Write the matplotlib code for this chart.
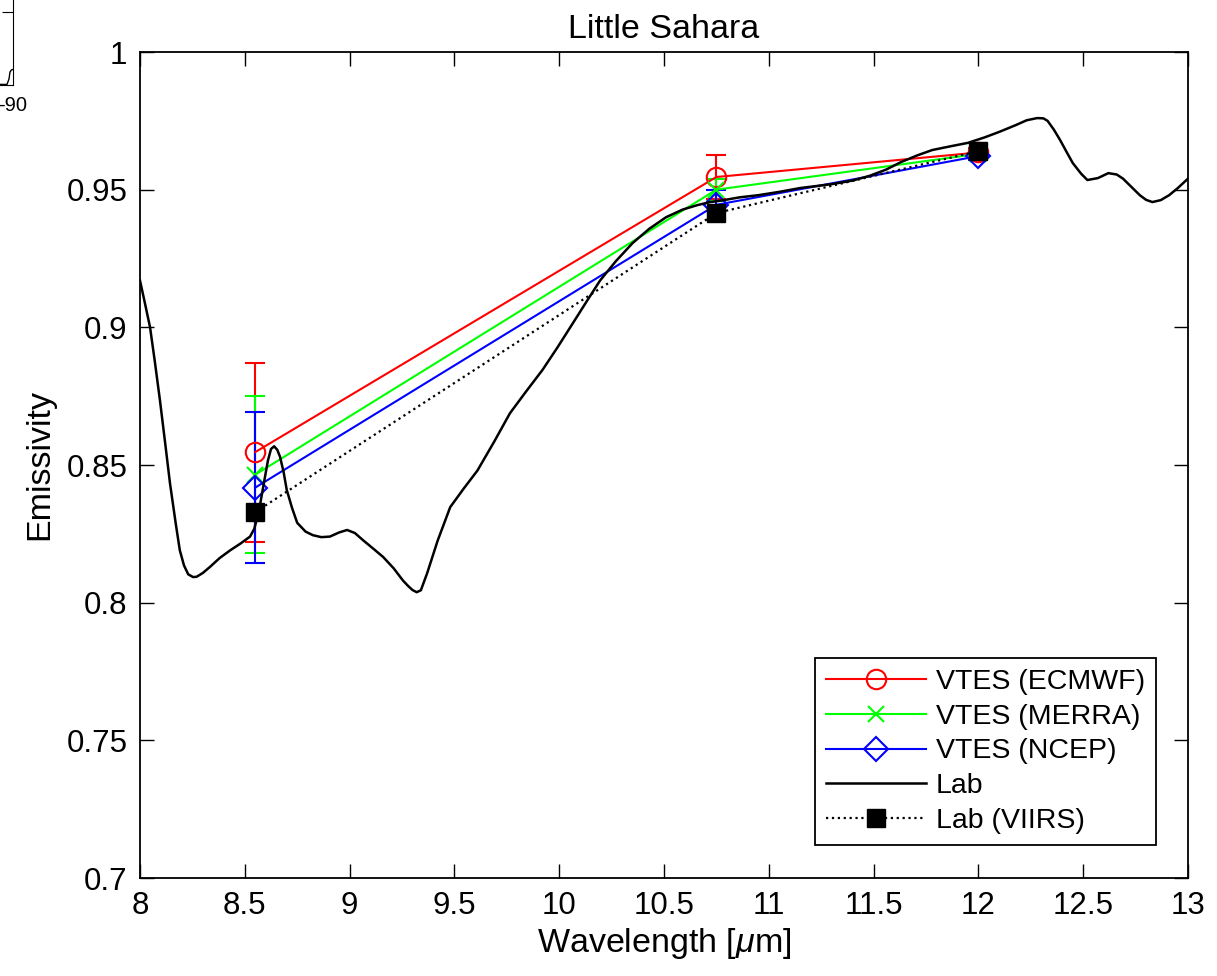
import numpy as np
import matplotlib
matplotlib.use('Agg')
import matplotlib.pyplot as plt

plt.rcParams['font.family'] = ['Liberation Sans', 'DejaVu Sans']
plt.rcParams['mathtext.fontset'] = 'custom'
plt.rcParams['mathtext.it'] = 'Liberation Sans:italic'
plt.rcParams['mathtext.rm'] = 'Liberation Sans'

# VTES / VIIRS band centres
bands = [8.55, 10.75, 12.0]

ecmwf = [0.8547, 0.9546, 0.9635]
ecmwf_err = [0.0325, 0.0080, 0.0015]
merra = [0.8465, 0.9500, 0.9630]
merra_err = [0.0285, 0.0040, 0.0015]
ncep = [0.8418, 0.9445, 0.9622]
ncep_err = [0.0273, 0.0055, 0.0015]
viirs = [0.8329, 0.9415, 0.9640]

# lab spectrum
lab_wl = [8.0, 8.02, 8.048, 8.07, 8.095, 8.12, 8.143, 8.17, 8.19, 8.21, 8.23, 8.253,
          8.27, 8.30, 8.334, 8.38, 8.43, 8.48, 8.525, 8.545, 8.56, 8.575, 8.59, 8.61,
          8.625, 8.64, 8.655, 8.668, 8.685, 8.70, 8.725, 8.75, 8.79, 8.825, 8.865,
          8.906, 8.95, 8.988, 9.025, 9.064, 9.11, 9.16, 9.21, 9.255, 9.28, 9.30, 9.32,
          9.34, 9.37, 9.42, 9.48, 9.545, 9.61, 9.69, 9.765, 9.84, 9.92, 9.99, 10.066,
          10.13, 10.195, 10.27, 10.35, 10.43, 10.51, 10.59, 10.66, 10.72, 10.77, 10.86,
          10.95, 11.05, 11.15, 11.3, 11.4, 11.48, 11.56, 11.63, 11.71, 11.78, 11.87,
          11.95, 12.03, 12.10, 12.18, 12.23, 12.28, 12.31, 12.33, 12.36, 12.39, 12.42,
          12.45, 12.49, 12.52, 12.57, 12.62, 12.66, 12.69, 12.73, 12.77, 12.80, 12.83,
          12.87, 12.91, 12.95, 13.0]
lab_em = [0.917, 0.910, 0.900, 0.888, 0.8736, 0.858, 0.8434, 0.829, 0.819, 0.8135, 0.8103, 0.8093,
          0.8094, 0.8108, 0.813, 0.8162, 0.819, 0.8215, 0.824, 0.8268, 0.831, 0.8365, 0.843, 0.8515,
          0.8558, 0.8568, 0.8555, 0.853, 0.8475, 0.841, 0.8345, 0.829, 0.8258, 0.8245, 0.8238,
          0.824, 0.8255, 0.8264, 0.8253, 0.8227, 0.8198, 0.8166, 0.8125, 0.808, 0.806, 0.8046, 0.8038,
          0.8045, 0.8107, 0.8225, 0.8347, 0.8415, 0.848, 0.8585, 0.8688, 0.8765, 0.8845, 0.8925, 0.9016,
          0.9093, 0.917, 0.924, 0.9306, 0.9358, 0.940, 0.9428, 0.9444, 0.9455, 0.946, 0.9472,
          0.948, 0.9492, 0.9506, 0.952, 0.9533, 0.955, 0.9573, 0.960, 0.9625, 0.9644, 0.9658,
          0.967, 0.969, 0.971, 0.9735, 0.9752, 0.976, 0.9759, 0.975, 0.9718, 0.968, 0.9638,
          0.9597, 0.9558, 0.9535, 0.9542, 0.956, 0.9555, 0.954, 0.951, 0.948, 0.9463, 0.9455,
          0.9462, 0.948, 0.9505, 0.954]

# clipped piece of the neighbouring panel (top-left corner)
frag_x = [-94.0, -91.8, -91.2, -90.9, -90.5, -90.0]
frag_y = [0.003, 0.003, 0.03, 0.065, 0.075, 0.078]

fig = plt.figure(figsize=(12.17, 9.76), dpi=100)

# neighbouring panel fragment
fa = fig.add_axes([-287 / 1217, 1 - 85 / 976, 300 / 1217, 200 / 976])
fa.plot(frag_x, frag_y, color='black', lw=1.0)
fa.set_xlim(-180, -90)
fa.set_ylim(0, 1)
fa.set_xticks([-90])
fa.set_xticklabels(['-90'], fontsize=14.5)
fa.set_yticks([0.365])
fa.tick_params(axis='y', direction='in', right=True, left=False, labelleft=False, length=8)
fa.tick_params(axis='x', direction='in', length=0, pad=8)
for s in ['top', 'left']:
    fa.spines[s].set_visible(False)

ax = fig.add_axes([140 / 1217, 1 - 878 / 976, 1048 / 1217, 826 / 976])

eb = dict(fmt='none', elinewidth=1.5, capsize=7, capthick=1.5)
ax.errorbar(bands, ecmwf, yerr=ecmwf_err, ecolor='red', **eb)
ax.errorbar(bands, merra, yerr=merra_err, ecolor=(0, 1, 0), **eb)
ax.errorbar(bands, ncep, yerr=ncep_err, ecolor='blue', **eb)

ax.plot(bands, ecmwf, color='red', lw=1.5, marker='o', ms=14, mfc='none', mew=1.5, label='VTES (ECMWF)')
ax.plot(bands, merra, color=(0, 1, 0), lw=1.5, marker='x', ms=12, mew=1.5, label='VTES (MERRA)')
ax.plot(bands, ncep, color='blue', lw=1.5, marker='D', ms=12, mfc='none', mew=1.5, label='VTES (NCEP)')
ax.plot(lab_wl, lab_em, color='black', lw=1.8, solid_joinstyle='round', label='Lab')
ax.plot(bands, viirs, color='black', lw=1.6, ls=':', marker='s', ms=12.5, mfc='black', label='Lab (VIIRS)')

ax.set_xlim(8, 13)
ax.set_ylim(0.7, 1.0)
ax.set_xticks(np.arange(8, 13.01, 0.5))
ax.set_xticklabels(['8', '8.5', '9', '9.5', '10', '10.5', '11', '11.5', '12', '12.5', '13'])
ax.set_yticks(np.arange(0.7, 1.001, 0.05))
ax.set_yticklabels(['0.7', '0.75', '0.8', '0.85', '0.9', '0.95', '1'])
ax.tick_params(direction='in', top=True, right=True, length=10, width=1.0, labelsize=22.5)
ax.tick_params(axis='x', pad=9)
ax.tick_params(axis='y', pad=9)
for s in ax.spines.values():
    s.set_linewidth(1.3)

ax.set_xlabel(r'Wavelength [$\mu$m]', fontsize=24.5, labelpad=4)
ax.set_ylabel('Emissivity', fontsize=24.5, labelpad=8)
ax.set_title('Little Sahara', fontsize=24.5, pad=10)

leg = ax.legend(loc='lower right', bbox_to_anchor=(0.9695, 0.04), fontsize=20.5,
                handlelength=3.5, handletextpad=0.35, labelspacing=0.3, borderpad=0.4,
                borderaxespad=0, fancybox=False, framealpha=1, edgecolor='black')
leg.get_frame().set_linewidth(1.3)

fig.savefig('out.png', dpi=100)
